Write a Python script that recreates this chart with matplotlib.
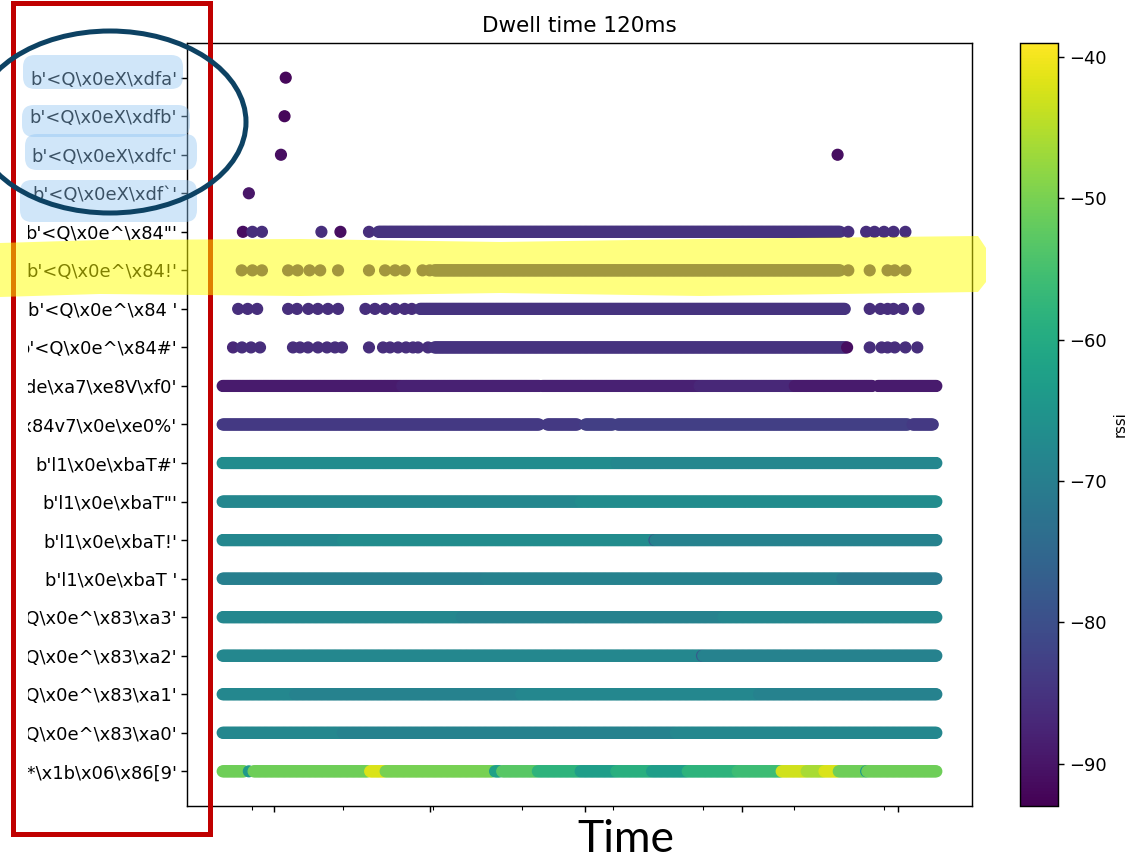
import numpy as np
import matplotlib.pyplot as plt
from matplotlib.patches import Rectangle, Ellipse, Polygon, FancyBboxPatch
from matplotlib.ticker import FixedLocator, NullFormatter

# device ids, bottom row first
labels = [
    "b'\\xd4*\\x1b\\x06\\x86[9'",
    "b'<Q\\x0e^\\x83\\xa0'",
    "b'<Q\\x0e^\\x83\\xa1'",
    "b'<Q\\x0e^\\x83\\xa2'",
    "b'<Q\\x0e^\\x83\\xa3'",
    "b'l1\\x0e\\xbaT '",
    "b'l1\\x0e\\xbaT!'",
    "b'l1\\x0e\\xbaT\"'",
    "b'l1\\x0e\\xbaT#'",
    "b'\\xa0\\x84v7\\x0e\\xe0%'",
    "b'\\x8e\\xde\\xa7\\xe8V\\xf0'",
    "b'<Q\\x0e^\\x84#'",
    "b'<Q\\x0e^\\x84 '",
    "b'<Q\\x0e^\\x84!'",
    "b'<Q\\x0e^\\x84\"'",
    "b'<Q\\x0eX\\xdf`'",
    "b'<Q\\x0eX\\xdfc'",
    "b'<Q\\x0eX\\xdfb'",
    "b'<Q\\x0eX\\xdfa'",
]

# (start s, end s, rssi) per row; start == end -> one packet
runs = [
    [(0, 18, -51), (22, 22, -64), (26, 122, -51), (124, 136, -42), (137, 227, -50),
     (229, 233, -62), (235, 264, -53), (265, 300, -58), (301, 330, -63), (331, 360, -59),
     (361, 390, -63), (391, 432, -58), (433, 469, -56), (470, 490, -43), (491, 505, -46),
     (506, 517, -42), (518, 540, -51), (541, 541, -64), (542, 600, -51)],
    [(0, 100, -68), (101, 380, -69), (381, 600, -68)],
    [(0, 60, -68), (61, 250, -69), (251, 450, -68), (451, 600, -69)],
    [(0, 180, -68), (181, 402, -68), (403, 403, -78), (404, 600, -69)],
    [(0, 200, -68), (201, 420, -69), (421, 600, -68)],
    [(0, 220, -70), (221, 520, -69), (521, 600, -71)],
    [(0, 100, -68), (101, 362, -67), (363, 363, -78), (364, 600, -69)],
    [(0, 300, -68), (301, 600, -67)],
    [(0, 330, -67), (331, 600, -68)],
    [(0, 266, -84), (273, 298, -84), (305, 328, -83), (332, 576, -83), (580, 597, -84)],
    [(0, 150, -89), (151, 266, -88), (269, 400, -88), (401, 480, -87), (481, 546, -89),
     (551, 600, -89)],
    [(8.7, 8.7, -87), (16.2, 16.2, -86), (23.8, 23.8, -86), (31.4, 31.4, -86),
     (59.1, 59.1, -86), (65, 65, -86), (71.7, 71.7, -86), (80.1, 80.1, -86),
     (87.7, 87.7, -86), (94.4, 94.4, -86), (100.3, 100.3, -86), (123, 123, -86),
     (134.8, 134.8, -86), (140.7, 140.7, -86), (147.4, 147.4, -86), (154.1, 154.1, -86),
     (160, 160, -86), (164.2, 164.2, -86), (172.6, 172.6, -86), (178, 524, -85),
     (525, 525, -91), (544, 544, -86), (554, 554, -86), (559, 559, -86), (565, 565, -86),
     (574, 574, -86), (584, 584, -86)],
    [(13, 13, -86), (21, 21, -86), (29, 29, -86), (55, 55, -86), (62.5, 62.5, -86),
     (72, 72, -86), (80, 80, -86), (88.5, 88.5, -86), (97, 97, -86), (120, 120, -86),
     (128, 128, -86), (136.5, 136.5, -86), (145, 145, -86), (153, 153, -86),
     (159, 159, -86), (166, 523, -85), (544, 544, -86), (553, 553, -86), (559, 559, -86),
     (564, 564, -86), (572, 572, -86), (585, 585, -86)],
    [(16, 16, -86), (25, 25, -86), (33, 33, -86), (55, 55, -86), (63, 63, -86),
     (73, 73, -86), (82, 82, -86), (97, 97, -86), (123, 123, -86), (136.5, 136.5, -86),
     (145, 145, -86), (153, 153, -86), (168, 168, -86), (174, 174, -86), (178, 519, -85),
     (526, 526, -86), (544, 544, -86), (559, 559, -86), (565, 565, -86), (574, 574, -86)],
    [(17, 17, -91), (25, 25, -86), (33, 33, -86), (83, 83, -86), (99, 99, -91),
     (123, 123, -86), (131, 519, -85), (526, 526, -86), (541, 541, -86), (548, 548, -86),
     (556, 556, -86), (564, 564, -86), (574, 574, -86)],
    [(22, 22, -90)],
    [(49, 49, -91), (517, 517, -91)],
    [(52, 52, -92)],
    [(53, 53, -92)],
]

major_ticks = [43, 174, 305, 437, 568]
minor_ticks = [25, 101, 177, 252, 328, 404, 480, 556]
step = 1.0

t, y, c = [], [], []
for i, row in enumerate(runs):
    for t0, t1, r in row:
        pts = np.arange(t0, t1 + step / 2, step) if t1 > t0 else np.array([t0])
        t.extend(pts)
        y.extend([i] * len(pts))
        c.extend([r] * len(pts))

k = 1.29
plt.rcParams['font.size'] = 10 * k
plt.rcParams['axes.linewidth'] = 0.8 * k

fig = plt.figure(figsize=(11.4, 8.65), dpi=100)
ax = fig.add_axes([187 / 1140, 59 / 865, 785 / 1140, 763 / 865])
cax = fig.add_axes([1020 / 1140, 59 / 865, 38 / 1140, 763 / 865])

sc = ax.scatter(t, y, c=c, cmap='viridis', vmin=-93, vmax=-39, s=60)
ax.set_yticks(range(len(labels)))
ax.set_yticklabels(labels)
ax.xaxis.set_major_locator(FixedLocator(major_ticks))
ax.xaxis.set_minor_locator(FixedLocator(minor_ticks))
ax.xaxis.set_major_formatter(NullFormatter())
ax.tick_params(which='major', length=3.5 * k, width=0.8 * k)
ax.tick_params(axis='y', pad=2.6)
ax.tick_params(which='minor', length=2.5 * k, width=0.6 * k)
ax.set_title("Dwell time 120ms", fontsize=12 * k, pad=6 * k)

cb = fig.colorbar(sc, cax=cax)
cb.set_label("rssi", fontsize=10.5)
cb.outline.set_linewidth(0.8 * k)
cax.tick_params(length=3.5 * k, width=0.8 * k)

# slide annotations, in pixels
ov = fig.add_axes([0, 0, 1, 1], zorder=10)
ov.set_xlim(0, 1140)
ov.set_ylim(865, 0)
ov.axis('off')
ov.patch.set_alpha(0)

# the pasted screenshot is cropped on its left side
ov.add_patch(Rectangle((0, 0), 28, 865, fc='white', ec='none'))
ov.add_patch(Rectangle((13, 3), 197, 831, fill=False, ec='#c00000', lw=3.6))
for x0, y0, w, h in [(23, 55, 160, 34), (22, 105, 168, 32), (25, 134, 172, 36), (20, 180, 177, 42)]:
    ov.add_patch(FancyBboxPatch((x0, y0), w, h, boxstyle="round,pad=0,rounding_size=12",
                                fc='#8fc4f2', ec='none', alpha=0.42))
ov.add_patch(Ellipse((110, 122), 272, 182, fill=False, ec='#0d4263', lw=3.6))
band = [(0, 243), (100, 240), (300, 239), (500, 242), (700, 239), (978, 236), (986, 248),
        (986, 282), (978, 292), (700, 296), (500, 293), (300, 296), (100, 294), (0, 297)]
ov.add_patch(Polygon(band, closed=True, fc='#ffff00', ec='none', alpha=0.5))
ov.text(626, 840, "Time", fontsize=32, family='Lato', ha='center', va='center')

fig.savefig("out.png", dpi=100)
